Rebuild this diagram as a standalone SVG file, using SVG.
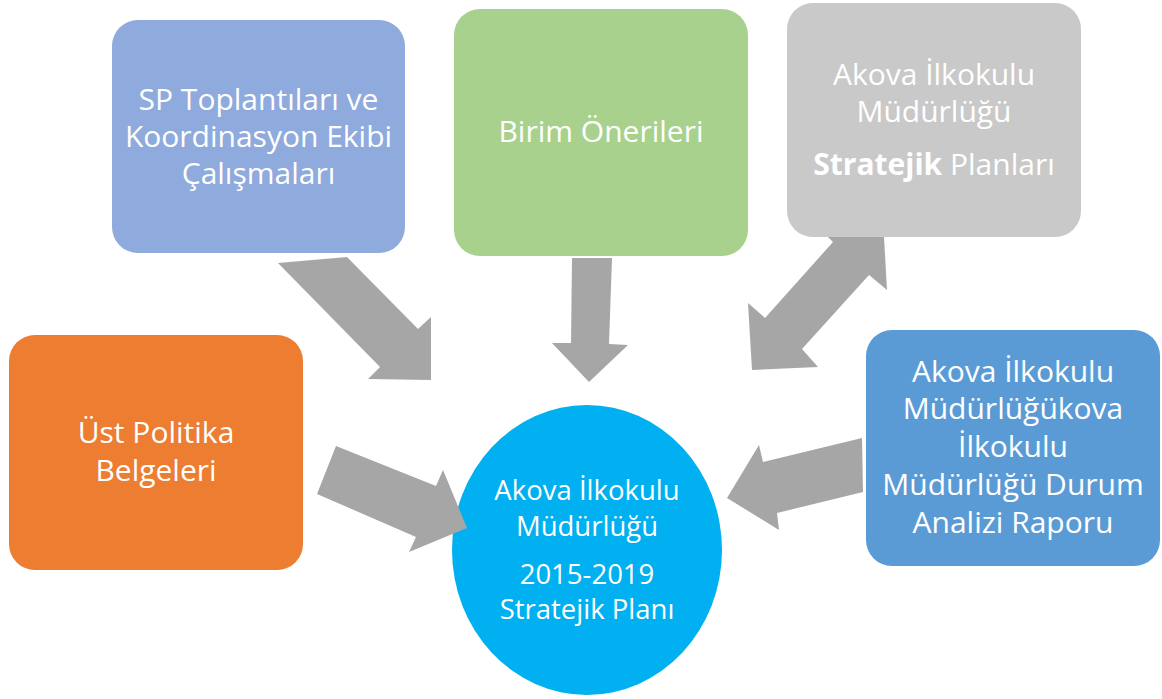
<svg xmlns="http://www.w3.org/2000/svg" width="1162" height="699" viewBox="0 0 1162 699">
<style>
.t{font-family:"Open Sans","Noto Sans","DejaVu Sans",sans-serif;font-size:30px;fill:#ffffff;text-anchor:middle}
.s{font-size:27.5px}
.arr{fill:#A6A6A6}
</style>
<rect width="1162" height="699" fill="#ffffff"/>
<g id="nodes">
<g id="sp">
<rect x="112" y="20" width="293" height="233" rx="26" fill="#8FAADC"/>
<text class="t" x="258.5" y="110">SP Toplantıları ve</text>
<text class="t" x="258.5" y="147">Koordinasyon Ekibi</text>
<text class="t" x="258.5" y="184">Çalışmaları</text>
</g>
<g id="birim">
<rect x="454" y="9" width="294" height="247" rx="26" fill="#A9D18E"/>
<text class="t" x="601" y="142">Birim Önerileri</text>
</g>
<g id="strateji">
<rect x="787" y="3" width="294" height="234" rx="26" fill="#C9C9C9"/>
<text class="t" x="934" y="85">Akova İlkokulu</text>
<text class="t" x="934" y="122">Müdürlüğü</text>
<text class="t" x="934" y="175"><tspan font-weight="bold">Stratejik</tspan> Planları</text>
</g>
<g id="ust">
<rect x="9" y="335" width="294" height="235" rx="26" fill="#ED7D31"/>
<text class="t" x="156" y="443">Üst Politika</text>
<text class="t" x="156" y="481">Belgeleri</text>
</g>
<g id="durum">
<rect x="866" y="330" width="294" height="236" rx="26" fill="#5B9BD5"/>
<text class="t" x="1013" y="382">Akova İlkokulu</text>
<text class="t" x="1013" y="419">Müdürlüğükova</text>
<text class="t" x="1013" y="457">İlkokulu</text>
<text class="t" x="1013" y="495">Müdürlüğü Durum</text>
<text class="t" x="1013" y="533">Analizi Raporu</text>
</g>
<g id="plan">
<ellipse cx="587" cy="550" rx="135" ry="145" fill="#00B0F0"/>
<text class="t s" x="587" y="500">Akova İlkokulu</text>
<text class="t s" x="587" y="536">Müdürlüğü</text>
<text class="t s" x="587" y="584">2015-2019</text>
<text class="t s" x="587" y="619">Stratejik Planı</text>
</g>
</g>
<g id="connectors">
<polygon class="arr" points="278,263 347,257 418,329 431,317 431,380 368,379 380,367"/>
<polygon class="arr" points="572,258 612,258 609,344 628,345 589,382 552,343 571,343"/>
<polygon class="arr" points="828,237 833,242 765,318 748,303 752,370 818,367 802,349 869,275 887,290 884,237"/>
<polygon class="arr" points="336,446 436,486 443,470 467,528 409,552 416,537 317,494"/>
<polygon class="arr" points="862,438 863,492 777,513 779,530 727,498 759,445 763,462"/>
</g>
</svg>
